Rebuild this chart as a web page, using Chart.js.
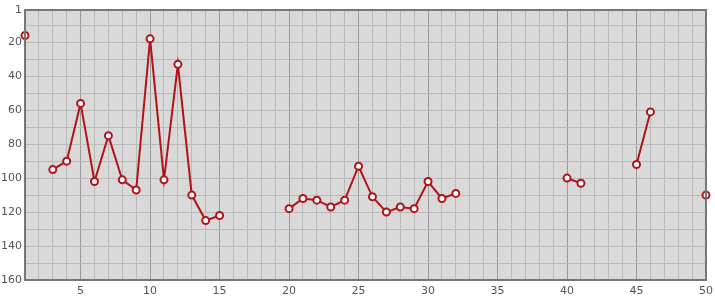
<!DOCTYPE html>
<html><head><meta charset="utf-8">
<script src="https://cdn.jsdelivr.net/npm/chart.js@4.4.0/dist/chart.umd.min.js"></script>
<style>html,body{margin:0;padding:0;background:#fff}#wrap{width:715px;height:300px}</style>
</head><body><div id="wrap"><canvas id="c" width="715" height="300"></canvas></div>
<script>
const categories = [1,2,3,4,5,6,7,8,9,10,11,12,13,14,15,16,17,18,19,20,21,22,23,24,25,26,27,28,29,30,31,32,33,34,35,36,37,38,39,40,41,42,43,44,45,46,47,48,49,50];
const values = [16,null,95,90,56,102,75,101,107,18,101,33,110,125,122,null,null,null,null,118,112,113,117,113,93,111,120,117,118,102,112,109,null,null,null,null,null,null,null,100,103,null,null,null,92,61,null,null,null,110];
const yTicks = [1,10,20,30,40,50,60,70,80,90,100,110,120,130,140,150,160];
const yLabels = [1,20,40,60,80,100,120,140,160];
const xLabels = [5,10,15,20,25,30,35,40,45,50];

const bgPlugin = {
  id:'bg',
  beforeDraw(chart){
    const {ctx, chartArea:a} = chart;
    ctx.save(); ctx.fillStyle='#d9d9d9';
    ctx.fillRect(a.left,a.top,a.right-a.left,a.bottom-a.top); ctx.restore();
  },
  afterDatasetsDraw(chart){
    const {ctx, chartArea:a} = chart;
    ctx.save(); ctx.strokeStyle='#777'; ctx.lineWidth=2;
    ctx.strokeRect(a.left,a.top,a.right-a.left,a.bottom-a.top); ctx.restore();
  }
};

new Chart(document.getElementById('c'), {
  type:'line',
  data:{datasets:[{
    data: categories.map((c,i)=>({x:c,y:values[i]})),
    borderColor:'#b0141a', borderWidth:2, spanGaps:false,
    pointRadius:3.5, pointBorderWidth:2, pointBackgroundColor:'#ffffff', pointBorderColor:'#b0141a',
    tension:0, clip:8
  }]},
  options:{
    responsive:false, animation:false, devicePixelRatio:1,
    layout:{padding:{top:10,right:0,left:0,bottom:0}},
    plugins:{legend:{display:false},tooltip:{enabled:false}},
    scales:{
      x:{type:'linear',min:1,max:50,
        afterBuildTicks(s){s.ticks=categories.map(v=>({value:v}));},
        afterFit(s){s.height=20; s.paddingRight=9;},
        grid:{color:c=>(c.tick && c.tick.value%5===0)?'#9a9a9a':'#bababa',lineWidth:1,drawTicks:false},
        border:{display:false},
        ticks:{autoSkip:false,maxRotation:0,padding:5,color:'#555',font:{family:'DejaVu Sans',size:11},
          callback:v=>xLabels.includes(v)?String(v):''}
      },
      y:{type:'linear',min:1,max:160,reverse:true,
        afterBuildTicks(s){s.ticks=yTicks.map(v=>({value:v}));},
        afterFit(s){s.width=25;},
        grid:{color:'#bababa',lineWidth:1,drawTicks:false},
        border:{display:false},
        ticks:{autoSkip:false,padding:3,color:'#555',font:{family:'DejaVu Sans',size:11},
          callback:v=>yLabels.includes(v)?String(v):''}
      }
    }
  },
  plugins:[bgPlugin]
});
</script></body></html>
